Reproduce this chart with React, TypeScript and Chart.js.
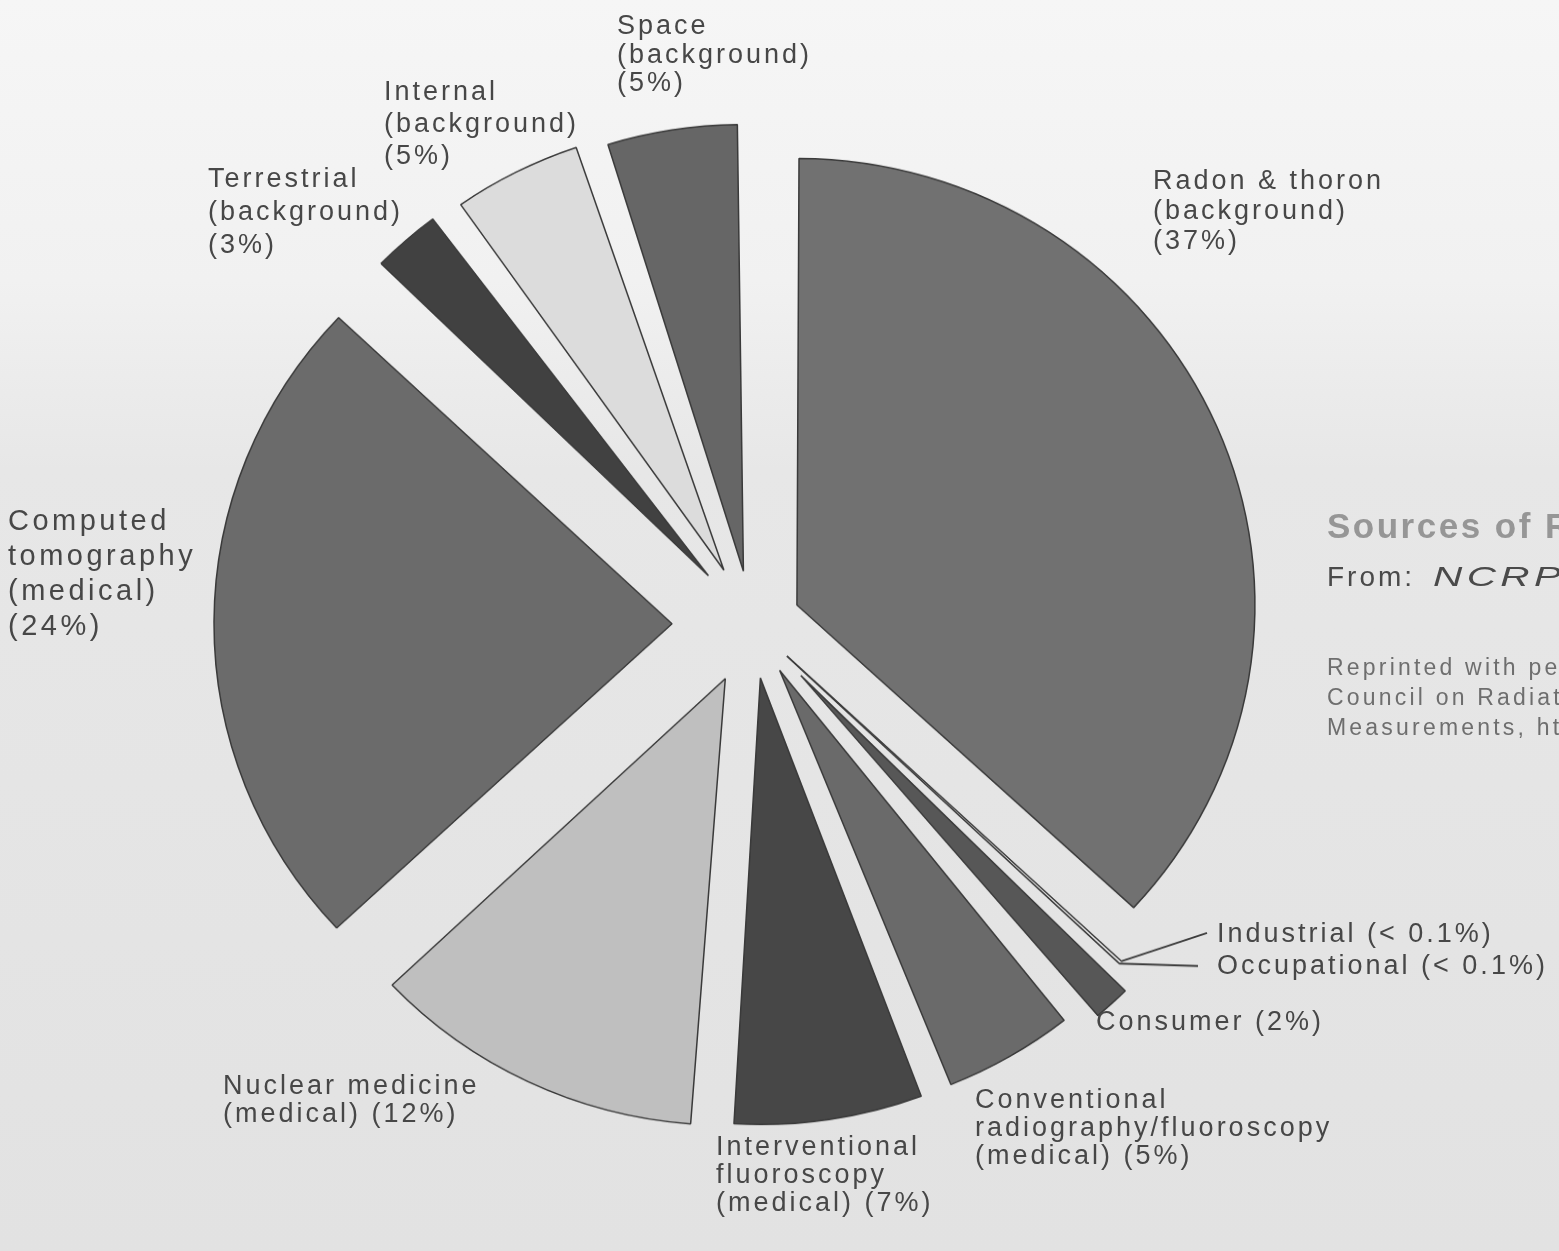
import React, { useEffect, useRef } from "react";
import { Chart, registerables } from "chart.js";

Chart.register(...registerables);

// ---- data ----
const sliceNames: string[] = [
  "Radon & thoron (background)",
  "Industrial",
  "Occupational",
  "Consumer",
  "Conventional radiography/fluoroscopy (medical)",
  "Interventional fluoroscopy (medical)",
  "Nuclear medicine (medical)",
  "Computed tomography (medical)",
  "Terrestrial (background)",
  "Internal (background)",
  "Space (background)",
];
const sliceValues: number[] = [37, 0.1, 0.1, 2, 5, 7, 12, 24, 3, 5, 5];

// ---- styles ----
const sliceColors: string[] = [
  "#717171",
  "#d6d6d6",
  "#9a9a9a",
  "#575757",
  "#6a6a6a",
  "#474747",
  "#bfbfbf",
  "#6b6b6b",
  "#414141",
  "#dcdcdc",
  "#666666",
];
// how far each wedge is pulled out of the pie, in px
const sliceExplode: number[] = [49, 48, 48, 72, 55, 56, 62, 80, 66, 62, 55];

const labelLines: string[][] = [
  ["Radon & thoron", "(background)", "(37%)"],
  ["Industrial (< 0.1%)"],
  ["Occupational (< 0.1%)"],
  ["Consumer (2%)"],
  ["Conventional", "radiography/fluoroscopy", "(medical) (5%)"],
  ["Interventional", "fluoroscopy", "(medical) (7%)"],
  ["Nuclear medicine", "(medical) (12%)"],
  ["Computed", "tomography", "(medical)", "(24%)"],
  ["Terrestrial", "(background)", "(3%)"],
  ["Internal", "(background)", "(5%)"],
  ["Space", "(background)", "(5%)"],
];
// left x, first baseline y, font size, letter spacing, line height of each label block
const labelPlaces: { x: number; y: number; fs: number; ls: number; lh: number }[] = [
  { x: 1153, y: 189, fs: 27, ls: 3, lh: 30 },
  { x: 1217, y: 943, fs: 27, ls: 3, lh: 29 },
  { x: 1217, y: 975, fs: 27, ls: 3, lh: 29 },
  { x: 1096, y: 1031, fs: 27, ls: 3, lh: 29 },
  { x: 975, y: 1108, fs: 27, ls: 3, lh: 28 },
  { x: 716, y: 1155, fs: 27, ls: 3, lh: 28 },
  { x: 223, y: 1094, fs: 27, ls: 3, lh: 28 },
  { x: 8, y: 531, fs: 29, ls: 3.5, lh: 35 },
  { x: 208, y: 188, fs: 27, ls: 3, lh: 33 },
  { x: 384, y: 100, fs: 27, ls: 3, lh: 32 },
  { x: 617, y: 35, fs: 27, ls: 3, lh: 28.5 },
];
// leader line ends for the two tiny slices (page px)
const leaderEnds: { i: number; x: number; y: number }[] = [
  { i: 1, x: 1207, y: 933 },
  { i: 2, x: 1198, y: 966 },
];

const W = 1559;
const H = 1251;
const SY = 0.975; // slight vertical squash of the photographed pie
const CH = Math.round(H / SY);

// keep every exploded wedge at the same radius (classic exploded pie)
const evenRadiusPlugin = {
  id: "evenRadius",
  beforeDatasetsDraw(chart: any) {
    const meta = chart.getDatasetMeta(0);
    const base = meta.controller.outerRadius;
    meta.data.forEach((el: any) => {
      const o = (el.options.offset || 0) / 4;
      const fix = 1 - Math.sin(Math.min(Math.PI, el.circumference || 0));
      el.outerRadius = base - o * fix;
    });
  },
};

const leaderPlugin = {
  id: "leaders",
  afterDatasetsDraw(chart: any) {
    const meta = chart.getDatasetMeta(0);
    const base = meta.controller.outerRadius;
    const ctx = chart.ctx;
    ctx.save();
    ctx.strokeStyle = "#3c3c3c";
    ctx.lineWidth = 2;
    for (const le of leaderEnds) {
      const el = meta.data[le.i];
      if (!el) continue;
      const p = el.getProps(["x", "y", "startAngle", "endAngle"], true);
      const o = (el.options.offset || 0) / 4;
      const mid = (p.startAngle + p.endAngle) / 2;
      const r = base + o;
      const sx = p.x + Math.cos(mid) * r;
      const sy = p.y + Math.sin(mid) * r;
      ctx.beginPath();
      ctx.moveTo(sx, sy);
      ctx.lineTo(le.x, le.y / SY);
      ctx.stroke();
    }
    ctx.restore();
  },
};

function PieChart() {
  const ref = useRef<HTMLCanvasElement | null>(null);
  useEffect(() => {
    if (!ref.current) return;
    const chart = new Chart(ref.current, {
      type: "pie",
      data: {
        labels: sliceNames,
        datasets: [
          {
            data: sliceValues,
            backgroundColor: sliceColors,
            borderColor: "#3a3a3a",
            borderWidth: 1.5,
            offset: sliceExplode.map((d) => d * 4),
            hoverOffset: 0,
          },
        ],
      },
      options: {
        animation: false,
        responsive: false,
        devicePixelRatio: 1,
        radius: 458,
        rotation: 0,
        layout: { padding: { left: 0, right: 55, top: 0, bottom: 3 } },
        plugins: {
          legend: { display: false },
          tooltip: { enabled: false },
          title: { display: false },
        },
        events: [],
      } as any,
      plugins: [evenRadiusPlugin, leaderPlugin],
    });
    return () => chart.destroy();
  }, []);
  return (
    <div
      style={{
        position: "absolute",
        left: 0,
        top: 0,
        width: W,
        height: CH,
        transform: `scaleY(${SY})`,
        transformOrigin: "0 0",
      }}
    >
      <canvas
        ref={ref}
        width={W}
        height={CH}
        style={{ display: "block", width: W, height: CH }}
      />
    </div>
  );
}

export default function App() {
  return (
    <div
      style={{
        position: "fixed",
        left: 0,
        top: 0,
        width: W,
        height: H,
        overflow: "hidden",
        background:
          "linear-gradient(180deg, #f6f6f6 0px, #f1f1f1 280px, #e7e7e7 470px, #e2e2e2 1251px)",
      }}
    >
      <PieChart />
      {labelLines.map((lines, i) => {
        const p = labelPlaces[i];
        const ascent = (p.lh - p.fs * 1.117) / 2 + p.fs * 0.905;
        return (
          <div
            key={i}
            style={{
              position: "absolute",
              left: p.x,
              top: p.y - ascent,
              fontFamily: '"Liberation Sans", Arial, Helvetica, sans-serif',
              fontSize: p.fs,
              lineHeight: `${p.lh}px`,
              letterSpacing: `${p.ls}px`,
              color: "#474747",
              whiteSpace: "nowrap",
            }}
          >
            {lines.map((t, j) => (
              <div key={j}>{t}</div>
            ))}
          </div>
        );
      })}
      <div
        style={{
          position: "absolute",
          left: 1327,
          top: 0,
          whiteSpace: "nowrap",
          fontFamily: '"Liberation Sans", Arial, sans-serif',
        }}
      >
        <div
          style={{
            position: "absolute",
            top: 538 - 32,
            fontSize: 35,
            fontWeight: "bold",
            color: "#969696",
            letterSpacing: "2.5px",
            lineHeight: "40px",
          }}
        >
          Sources of Radiation Exposure
        </div>
        <div
          style={{
            position: "absolute",
            top: 587 - 27,
            fontSize: 28,
            color: "#4a4a4a",
            letterSpacing: "3px",
            lineHeight: "34px",
          }}
        >
          From:
          <span
            style={{
              display: "inline-block",
              marginLeft: 18,
              fontStyle: "italic",
              letterSpacing: "3px",
              transform: "scaleX(1.45)",
              transformOrigin: "0 50%",
            }}
          >
            NCRP Report No. 160
          </span>
        </div>
        <div
          style={{
            position: "absolute",
            top: 675 - 23,
            fontSize: 23,
            color: "#6e6e6e",
            letterSpacing: "3.2px",
            lineHeight: "30px",
          }}
        >
          <div>Reprinted with permission of the National</div>
          <div>Council on Radiation Protection and</div>
          <div>Measurements, http://NCRPonline.org</div>
        </div>
      </div>
    </div>
  );
}
